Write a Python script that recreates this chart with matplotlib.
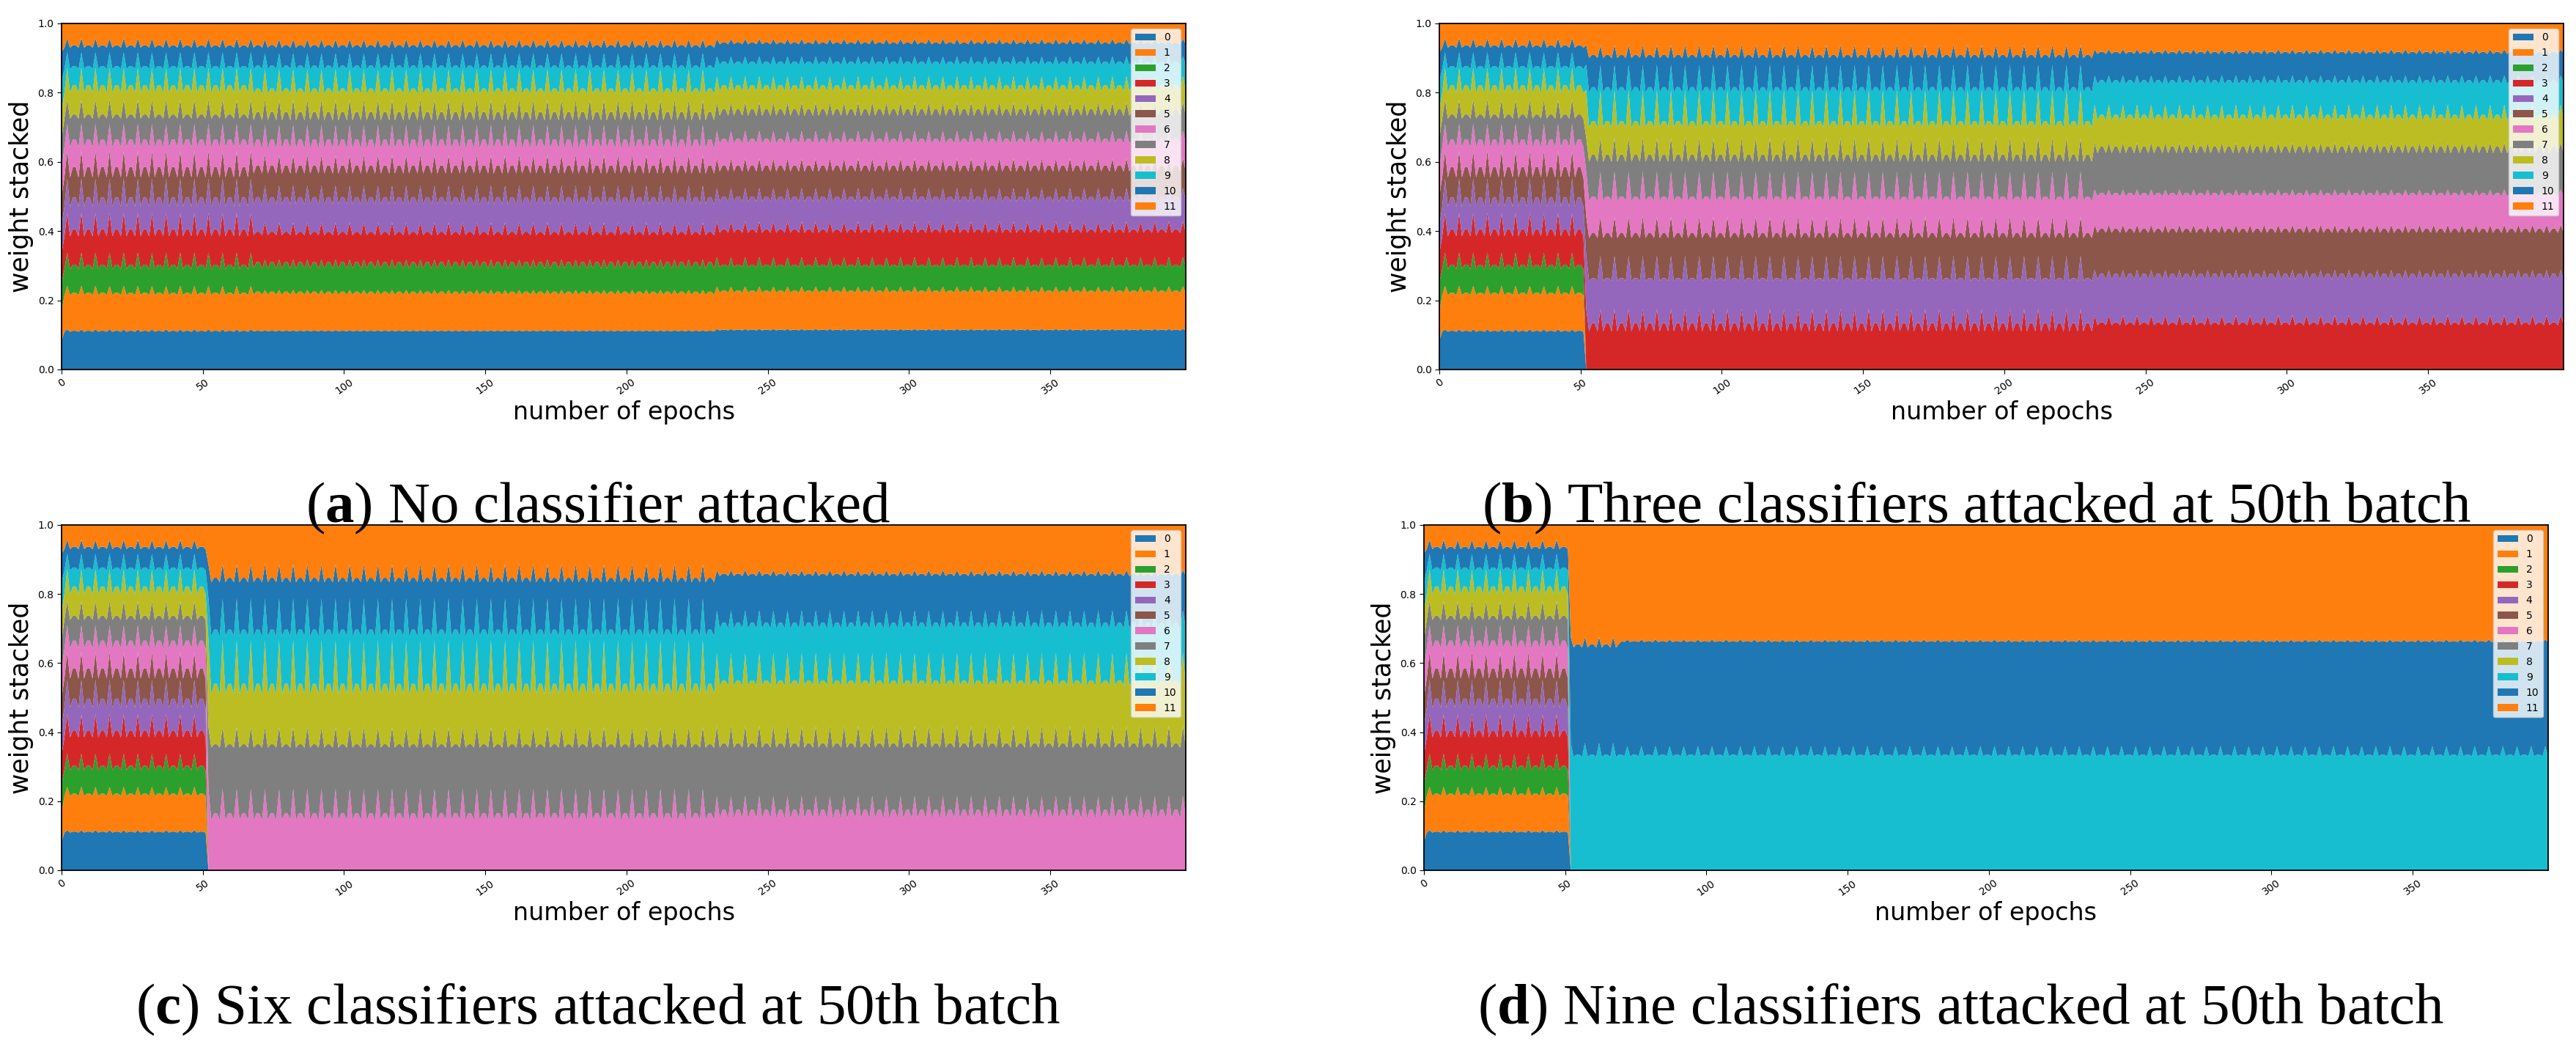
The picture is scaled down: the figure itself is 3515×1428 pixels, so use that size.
"""
Stacked classifier weights over training, for four attack scenarios.

"""

import matplotlib

matplotlib.use("Agg")
import matplotlib.pyplot as plt
import numpy as np

N_EPOCHS = 399
SERIES = [str(i) for i in range(12)]
EPOCH_TICKS = [0, 50, 100, 150, 200, 250, 300, 350]
WEIGHT_TICKS = [0.0, 0.2, 0.4, 0.6, 0.8, 1.0]

# cumulative top edge of series 0..10 (series 11 fills up to 1.0)
START_EDGES = [0.083, 0.167, 0.25, 0.333, 0.417, 0.5, 0.583, 0.667, 0.75, 0.833, 0.917]

# before the attack every run looks the same
PRE_MID = [0.112, 0.222, 0.303, 0.405, 0.497, 0.585, 0.665, 0.737, 0.822, 0.877, 0.937]
PRE_PEAK = [0.116, 0.242, 0.338, 0.452, 0.552, 0.632, 0.710, 0.780, 0.872, 0.917, 0.957]
PRE_DIP = [0.109, 0.215, 0.290, 0.385, 0.470, 0.555, 0.642, 0.725, 0.800, 0.868, 0.930]

# (a) no classifier attacked
A2_MID = [0.112, 0.225, 0.310, 0.398, 0.498, 0.590, 0.665, 0.744, 0.812, 0.878, 0.938]
A2_PEAK = [0.114, 0.230, 0.318, 0.425, 0.532, 0.620, 0.707, 0.780, 0.868, 0.914, 0.954]
A2_DIP = [0.110, 0.216, 0.292, 0.388, 0.477, 0.566, 0.638, 0.720, 0.797, 0.868, 0.930]
A3_MID = [0.115, 0.228, 0.303, 0.405, 0.500, 0.590, 0.667, 0.752, 0.822, 0.890, 0.945]
A3_PEAK = [0.117, 0.240, 0.325, 0.428, 0.525, 0.610, 0.690, 0.772, 0.848, 0.905, 0.955]
A3_DIP = [0.113, 0.222, 0.295, 0.395, 0.485, 0.572, 0.653, 0.733, 0.805, 0.880, 0.940]

# (b) three classifiers attacked
B2_MID = [0.0, 0.0, 0.0, 0.134, 0.264, 0.394, 0.500, 0.621, 0.718, 0.816, 0.909]
B2_PEAK = [0.0, 0.0, 0.0, 0.175, 0.329, 0.442, 0.572, 0.670, 0.808, 0.881, 0.937]
B2_DIP = [0.0, 0.0, 0.0, 0.110, 0.256, 0.380, 0.487, 0.600, 0.700, 0.800, 0.900]
B3_MID = [0.0, 0.0, 0.0, 0.136, 0.277, 0.407, 0.510, 0.644, 0.736, 0.836, 0.918]
B3_PEAK = [0.0, 0.0, 0.0, 0.157, 0.288, 0.418, 0.520, 0.655, 0.766, 0.850, 0.925]
B3_DIP = [0.0, 0.0, 0.0, 0.128, 0.260, 0.395, 0.500, 0.625, 0.720, 0.825, 0.912]

# (c) six classifiers attacked
C2_MID = [0.0, 0.0, 0.0, 0.0, 0.0, 0.0, 0.165, 0.365, 0.540, 0.697, 0.847]
C2_PEAK = [0.0, 0.0, 0.0, 0.0, 0.0, 0.0, 0.236, 0.415, 0.667, 0.787, 0.886]
C2_DIP = [0.0, 0.0, 0.0, 0.0, 0.0, 0.0, 0.145, 0.355, 0.510, 0.677, 0.834]
C3_MID = [0.0, 0.0, 0.0, 0.0, 0.0, 0.0, 0.175, 0.368, 0.550, 0.717, 0.859]
C3_PEAK = [0.0, 0.0, 0.0, 0.0, 0.0, 0.0, 0.216, 0.418, 0.630, 0.753, 0.869]
C3_DIP = [0.0, 0.0, 0.0, 0.0, 0.0, 0.0, 0.150, 0.355, 0.535, 0.700, 0.852]

# (d) nine classifiers attacked
D2_MID = [0.0, 0.0, 0.0, 0.0, 0.0, 0.0, 0.0, 0.0, 0.0, 0.335, 0.655]
D2_PEAK = [0.0, 0.0, 0.0, 0.0, 0.0, 0.0, 0.0, 0.0, 0.0, 0.369, 0.675]
D2_DIP = [0.0, 0.0, 0.0, 0.0, 0.0, 0.0, 0.0, 0.0, 0.0, 0.328, 0.645]
D3_MID = [0.0, 0.0, 0.0, 0.0, 0.0, 0.0, 0.0, 0.0, 0.0, 0.335, 0.664]
D3_PEAK = [0.0, 0.0, 0.0, 0.0, 0.0, 0.0, 0.0, 0.0, 0.0, 0.360, 0.668]
D3_DIP = [0.0, 0.0, 0.0, 0.0, 0.0, 0.0, 0.0, 0.0, 0.0, 0.330, 0.661]

# which level a batch sits on, by epoch % 5
CYCLE = ["mid", "dip", "peak", "dip", "mid"]

CAPTIONS = [
    r"($\mathbf{a}$) No classifier attacked",
    r"($\mathbf{b}$) Three classifiers attacked at 50th batch",
    r"($\mathbf{c}$) Six classifiers attacked at 50th batch",
    r"($\mathbf{d}$) Nine classifiers attacked at 50th batch",
]

# (first epoch, mid, peak, dip) for every stretch of a run
PANEL_SEGMENTS = [
    [(1, PRE_MID, PRE_PEAK, PRE_DIP), (68, A2_MID, A2_PEAK, A2_DIP), (232, A3_MID, A3_PEAK, A3_DIP)],
    [(1, PRE_MID, PRE_PEAK, PRE_DIP), (52, B2_MID, B2_PEAK, B2_DIP), (232, B3_MID, B3_PEAK, B3_DIP)],
    [(1, PRE_MID, PRE_PEAK, PRE_DIP), (52, C2_MID, C2_PEAK, C2_DIP), (232, C3_MID, C3_PEAK, C3_DIP)],
    [(1, PRE_MID, PRE_PEAK, PRE_DIP), (52, D2_MID, D2_PEAK, D2_DIP), (70, D3_MID, D3_PEAK, D3_DIP)],
]

# axes boxes [left, bottom, width, height] and caption anchors, figure fraction
AXES_BOXES = [
    [0.0239, 0.6471, 0.4363, 0.3305],
    [0.5586, 0.6471, 0.4363, 0.3305],
    [0.0239, 0.1688, 0.4363, 0.3298],
    [0.5526, 0.1688, 0.4363, 0.3298],
]
CAPTION_XY = [(0.2321, 0.5014), (0.7671, 0.5014), (0.2321, 0.0224), (0.7611, 0.0224)]


def _build_weights(segments):
    edges = [START_EDGES]
    for epoch in range(1, N_EPOCHS):
        seg = [s for s in segments if s[0] <= epoch][-1]
        levels = {"mid": seg[1], "peak": seg[2], "dip": seg[3]}
        edges.append(levels[CYCLE[epoch % 5]])
    edges = np.array(edges)
    full = np.hstack([np.zeros((N_EPOCHS, 1)), edges, np.ones((N_EPOCHS, 1))])
    return np.clip(np.diff(full, axis=1), 0, None).T


def main() -> None:
    plt.rcParams["mathtext.fontset"] = "custom"
    plt.rcParams["mathtext.rm"] = "Liberation Serif"
    plt.rcParams["mathtext.bf"] = "Liberation Serif:bold"

    fig = plt.figure(figsize=(35.16, 14.28), dpi=100)
    epochs = np.arange(N_EPOCHS)

    for box, segments, caption, (cx, cy) in zip(AXES_BOXES, PANEL_SEGMENTS, CAPTIONS, CAPTION_XY):
        ax = fig.add_axes(box)
        ax.stackplot(epochs, _build_weights(segments), labels=SERIES)
        ax.set_xlim(0, N_EPOCHS - 1)
        ax.set_ylim(0, 1)
        ax.set_xticks(EPOCH_TICKS)
        ax.set_yticks(WEIGHT_TICKS)
        ax.tick_params(axis="both", labelsize=10, length=4)
        for label in ax.get_xticklabels():
            label.set_rotation(35)
        for spine in ax.spines.values():
            spine.set_linewidth(1.3)
        ax.set_xlabel("number of epochs", fontsize=24)
        ax.xaxis.set_label_coords(0.5, -0.09)
        ax.set_ylabel("weight stacked", fontsize=25)
        ax.yaxis.set_label_coords(-0.025, 0.5)
        ax.legend(loc="upper right", fontsize=10)
        fig.text(cx, cy, caption, ha="center", va="baseline",
                 fontsize=57, family="Liberation Serif")

    fig.savefig("out.png", dpi=100)


if __name__ == "__main__":
    main()
